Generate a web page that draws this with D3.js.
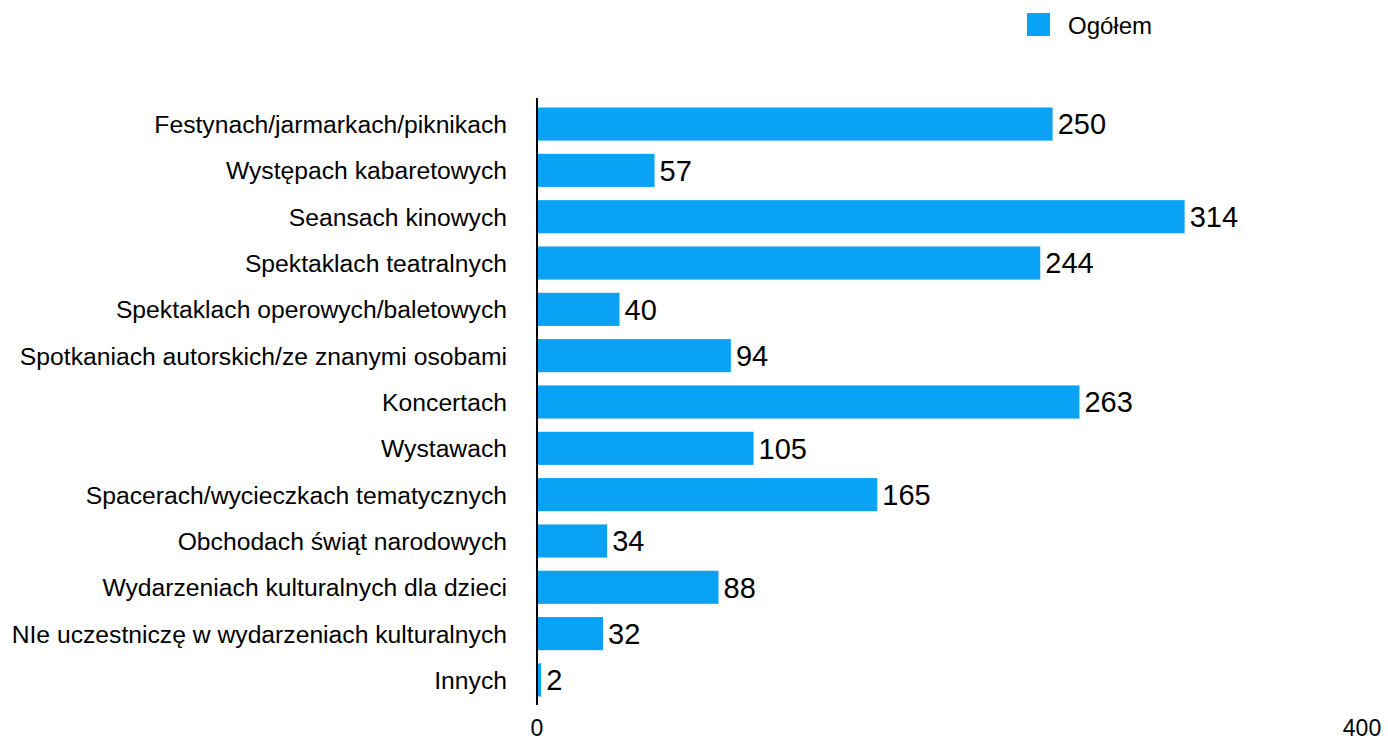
<!DOCTYPE html>
<html>
<head>
<meta charset="utf-8">
<script src="https://cdn.jsdelivr.net/npm/d3@7"></script>
<style>
  body { margin: 0; background: #fff; }
  text { font-family: "Liberation Sans", Arial, Helvetica, sans-serif; fill: #000; }
</style>
</head>
<body>
<script>
// dane
var categories = [
  "Festynach/jarmarkach/piknikach",
  "Występach kabaretowych",
  "Seansach kinowych",
  "Spektaklach teatralnych",
  "Spektaklach operowych/baletowych",
  "Spotkaniach autorskich/ze znanymi osobami",
  "Koncertach",
  "Wystawach",
  "Spacerach/wycieczkach tematycznych",
  "Obchodach świąt narodowych",
  "Wydarzeniach kulturalnych dla dzieci",
  "NIe uczestniczę w wydarzeniach kulturalnych",
  "Innych"
];
var values = [250, 57, 314, 244, 40, 94, 263, 105, 165, 34, 88, 32, 2];
var seriesName = "Ogółem";
var tickValues = [0, 400];

var w = 1388, h = 741;
var barColor = "#0aa2f5";

var svg = d3.select("body").append("svg").attr("width", w).attr("height", h);

var x = d3.scaleLinear().domain([0, 400]).range([537, 1362]);
var y = d3.scaleBand().domain(categories).range([101, 703]).paddingInner(0.285).paddingOuter(0.14);

// słupki
svg.selectAll("rect.bar").data(values).enter().append("rect")
  .attr("class", "bar")
  .attr("x", x(0))
  .attr("y", function (d, i) { return y(categories[i]); })
  .attr("width", function (d) { return x(d) - x(0); })
  .attr("height", y.bandwidth())
  .attr("fill", barColor);

// etykiety wartości
svg.selectAll("text.val").data(values).enter().append("text")
  .attr("class", "val")
  .attr("x", function (d) { return x(d) + 5; })
  .attr("y", function (d, i) { return y(categories[i]) + y.bandwidth() / 2; })
  .attr("dy", "0.36em")
  .style("font-size", "29px")
  .text(function (d) { return d; });

// kategorie
svg.selectAll("text.cat").data(categories).enter().append("text")
  .attr("class", "cat")
  .attr("x", 507)
  .attr("y", function (d) { return y(d) + y.bandwidth() / 2; })
  .attr("dy", "0.36em")
  .attr("text-anchor", "end")
  .style("font-size", "24.7px")
  .text(function (d) { return d; });

// oś pionowa
svg.append("line")
  .attr("x1", x(0)).attr("x2", x(0))
  .attr("y1", 98).attr("y2", 705)
  .attr("stroke", "#000").attr("stroke-width", 2);

// etykiety osi X
svg.selectAll("text.tick").data(tickValues).enter().append("text")
  .attr("class", "tick")
  .attr("x", function (d) { return x(d); })
  .attr("y", 728)
  .attr("dy", "0.36em")
  .attr("text-anchor", "middle")
  .style("font-size", "23px")
  .text(function (d) { return d; });

// legenda
var legend = svg.append("g");
legend.append("rect").attr("x", 1027).attr("y", 13).attr("width", 23).attr("height", 23).attr("fill", barColor);
legend.append("text").attr("x", 1068).attr("y", 25).attr("dy", "0.36em").style("font-size", "24px").text(seriesName);
</script>
</body>
</html>
